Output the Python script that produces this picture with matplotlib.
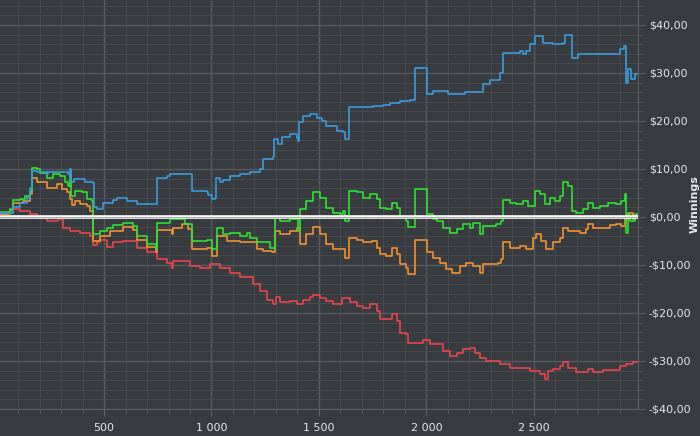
import matplotlib
matplotlib.use("Agg")
import matplotlib.pyplot as plt
from matplotlib.ticker import MultipleLocator, FuncFormatter

# series (hand count, winnings in $)
blue_x = [16, 78, 109, 140, 156, 164, 187, 233, 241, 334, 342, 345, 360, 412, 450, 453, 466, 497,
          543, 559, 605, 652, 742, 745, 791, 807, 900, 908, 977, 985, 1001, 1016, 1021, 1039, 1055,
          1086, 1132, 1179, 1225, 1241, 1287, 1292, 1311, 1326, 1365, 1399, 1404, 1408, 1427, 1458,
          1489, 1512, 1535, 1582, 1613, 1621, 1641, 1752, 1799, 1830, 1876, 1923, 1946, 2003, 2031,
          2101, 2179, 2264, 2295, 2341, 2354, 2434, 2450, 2465, 2481, 2504, 2543, 2589, 2636, 2644,
          2678, 2706, 2899, 2918, 2930, 2938, 2954, 2969, 2980]
blue_y = [0.9, 2, 3, 4, 6, 9.6, 9.4, 8.9, 9.3, 9, 9.9, 7.2, 8, 7.2, 7, 2, 1.6, 3,
          3.5, 3.9, 3.3, 2.8, 2.6, 8.2, 8.5, 9, 8.9, 5.4, 5.2, 4.5, 3.7, 4, 8.2, 7.2, 7.8,
          8.5, 8.9, 9.4, 9.9, 12, 12.4, 16.2, 15.1, 16.7, 17.2, 16.5, 15.8, 19.7, 21, 21.4,
          20.7, 20, 19, 17.9, 17.6, 16.2, 22.9, 23.1, 23.3, 23.8, 24.2, 24.3, 31, 25.6, 26.3,
          25.6, 26.1, 27.6, 28.5, 30, 34.2, 34.6, 33.9, 34.6, 36, 37.7, 36.3, 36, 36.3, 38,
          33.2, 33.9, 34.9, 35.6, 28, 30.8, 28.7, 29.7, 29.7]

green_x = [16, 63, 78, 109, 133, 156, 164, 187, 202, 233, 264, 295, 319, 334, 342, 345, 365, 396,
           419, 443, 447, 481, 512, 543, 590, 636, 652, 698, 742, 745, 807, 877, 908, 977, 1001,
           1024, 1055, 1086, 1132, 1163, 1179, 1210, 1272, 1295, 1318, 1365, 1404, 1411, 1442, 1473,
           1504, 1535, 1566, 1597, 1613, 1621, 1641, 1675, 1706, 1737, 1768, 1783, 1814, 1838, 1861,
           1876, 1907, 1915, 1946, 2003, 2031, 2047, 2078, 2109, 2140, 2171, 2202, 2217, 2248, 2264,
           2326, 2349, 2357, 2388, 2419, 2450, 2473, 2504, 2527, 2551, 2574, 2597, 2620, 2636, 2659,
           2675, 2698, 2729, 2752, 2775, 2806, 2845, 2884, 2907, 2923, 2927, 2938, 2946, 2969, 2980]
green_y = [1.1, 1.6, 3.5, 3.7, 4.4, 5.4, 10.3, 9.9, 9.2, 8.2, 8.9, 8.5, 7.2, 6.5, 8.9, 4.4, 5.4, 5.1,
           3.7, 3.3, -3.6, -2.9, -2.2, -1.7, -1.2, -1.9, -4, -5.7, -6.7, -1.2, -0.5, -1.5, -5, -4.9, -6.7,
           -2.2, -3.6, -3.3, -4, -3.3, -4.3, -5.3, -6.4, -0.1, -0.8, -0.5, -2.9, 1.6, 3.3, 5.1,
           4, 1.9, 0.9, 0.6, 1.2, -0.8, 5.4, 5.1, 4, 4.7, 3.7, 1.9, 1.6, 3, 1.9,
           -0.1, -0.8, -2.1, 5.8, 0.6, -0.5, -0.8, -2.2, -3.3, -2.6, -1.5, -2.2, -1.2, -3.6, -1.9,
           -1.5, -0.8, 3.5, 3, 2.6, 3.3, 2.3, 5.4, 4.7, 2.6, 4, 3.3, 4.4, 7.2, 6.5,
           1.2, 0.9, 1.6, 3, 1.9, 2.3, 3, 2.8, 3.3, 4.7, -3.3, 0.6, -0.8, 0.6, 0.6]

orange_x = [16, 63, 78, 125, 156, 164, 187, 233, 280, 303, 326, 342, 350, 365, 388, 419, 435, 447,
            481, 528, 590, 636, 652, 698, 742, 745, 815, 822, 861, 892, 908, 977, 1001, 1024, 1070,
            1132, 1210, 1241, 1280, 1295, 1318, 1365, 1396, 1411, 1442, 1473, 1504, 1535, 1566, 1621,
            1641, 1675, 1706, 1745, 1768, 1783, 1814, 1838, 1861, 1876, 1907, 1915, 1946, 2003, 2031,
            2062, 2093, 2117, 2155, 2186, 2217, 2248, 2264, 2334, 2349, 2357, 2388, 2434, 2465, 2496,
            2512, 2535, 2558, 2589, 2620, 2636, 2659, 2713, 2744, 2752, 2775, 2853, 2884, 2907, 2923,
            2938, 2961, 2969, 2980]
orange_y = [0.7, 1.4, 3, 3.3, 4.7, 8.2, 7.2, 6.1, 6.8, 5.8, 5.1, 3.7, 2.5, 3.3, 2.6, 2.3, 1.2, -5,
            -4, -2.9, -2.1, -2.8, -4.7, -6.2, -7.4, -2.8, -3.6, -2.2, -1.5, -2.6, -6.7, -6.4, -8.1, -4, -5,
            -5.3, -6.7, -7.1, -7.4, -2.9, -3.6, -2.9, -2.2, -5.6, -3.6, -2.1, -3.6, -5.7, -6.7, -8.5,
            -4.3, -4.9, -5.3, -5, -6.4, -7.8, -8.1, -6.4, -7.8, -9.9, -10.6, -11.9, -4.7, -7.4, -8.5,
            -9.5, -10.9, -11.6, -10.3, -9.5, -10.3, -11.6, -9.9, -9.5, -8.8, -5.3, -6.4, -6, -6.7, -4.3,
            -3.6, -5, -6.7, -5.3, -4.3, -2.2, -2.9, -3.3, -2.6, -1.5, -2.2, -1.7, -1.5, -1.9, -0.5,
            0.9, -0.5, 0.2, 0.2]

red_x = [16, 47, 78, 109, 156, 187, 233, 288, 311, 342, 388, 435, 447, 466, 481, 512, 543, 590,
         652, 698, 745, 791, 815, 822, 900, 946, 993, 1039, 1086, 1132, 1194, 1225, 1256, 1287, 1300,
         1318, 1365, 1396, 1427, 1458, 1473, 1504, 1535, 1566, 1605, 1644, 1675, 1706, 1737, 1768,
         1783, 1838, 1861, 1876, 1907, 1915, 1985, 2016, 2078, 2109, 2140, 2171, 2202, 2225, 2248,
         2279, 2341, 2388, 2481, 2527, 2551, 2566, 2589, 2620, 2636, 2659, 2698, 2752, 2775, 2822,
         2899, 2930, 2961, 2980]
red_y = [0.6, 0.9, 1.6, 1.3, 0.7, -0.3, -0.8, -0.5, -2.2, -2.9, -3.3, -4, -5.8, -5.3, -4.7, -6.2, -5.3, -5,
         -6.4, -7.4, -8.8, -9.5, -10.6, -9.2, -10.2, -10.6, -9.9, -10.6, -11.6, -12.5, -14, -15.4, -17.2, -18.2, -16.7,
         -17.8, -17.5, -18.2, -17.2, -16.7, -16.3, -16.8, -17.5, -18.2, -16.8, -17.8, -18.5, -18.9, -18.2, -19.6,
         -21.3, -20.3, -21.7, -24.1, -24.4, -26.2, -25.7, -26.5, -27.9, -29, -28.3, -27.6, -27.2, -28.3, -29.3,
         -30, -30.7, -31.4, -32.1, -32.8, -33.8, -32.1, -31.7, -31, -30.3, -31.4, -32.4, -31.7, -32.3, -31.8,
         -31, -30.7, -30.3, -30.3]

bg = "#383b3f"
txt = "#e6e6e6"

fig = plt.figure(figsize=(7, 4.36), dpi=100, facecolor=bg)
ax = fig.add_axes([0.0, 0.062, 0.911, 0.938], facecolor=bg)

ax.plot(red_x, red_y, drawstyle="steps-post", color="#e5474a", lw=1.2)
ax.plot(orange_x, orange_y, drawstyle="steps-post", color="#f0922f", lw=1.2)
ax.plot(green_x, green_y, drawstyle="steps-post", color="#30e030", lw=1.2)
ax.plot(blue_x, blue_y, drawstyle="steps-post", color="#3a9ad8", lw=1.2)
ax.axhline(0, color="white", lw=2.6, zorder=3)
ax.axhline(0, color="#9a9a9a", lw=0.6, zorder=4)

ax.set_xlim(16, 2983)
ax.set_ylim(-40, 45.2)

ax.xaxis.set_major_locator(MultipleLocator(500))
ax.xaxis.set_minor_locator(MultipleLocator(100))
ax.yaxis.set_major_locator(MultipleLocator(10))
ax.yaxis.set_minor_locator(MultipleLocator(2))
ax.xaxis.set_major_formatter(FuncFormatter(lambda v, p: f"{int(v):,}".replace(",", " ")))


def money(v, p):
    s = f"${abs(v):.2f}".replace(".", ",")
    return "-" + s if v < 0 else s


ax.yaxis.set_major_formatter(FuncFormatter(money))
ax.yaxis.tick_right()
ax.yaxis.set_label_position("right")

ax.grid(which="major", color="#575b60", lw=1.0)
ax.grid(which="minor", color="#46494e", lw=0.8)
ax.set_axisbelow(True)

for side in ["top", "left"]:
    ax.spines[side].set_visible(False)
for side in ["right", "bottom"]:
    ax.spines[side].set_color("#5c6065")

ax.tick_params(which="both", colors="#5c6065", labelcolor=txt, labelsize=8)
ax.tick_params(which="major", length=5)
ax.tick_params(which="minor", length=3)
ax.tick_params(axis="y", which="major", pad=3)
ax.tick_params(axis="x", which="major", pad=5)

ax.set_ylabel("Winnings", color=txt, fontsize=8, fontweight="bold", rotation=90)
ax.yaxis.set_label_coords(1.082, 0.5)

fig.savefig("out.png", dpi=100, facecolor=bg)
